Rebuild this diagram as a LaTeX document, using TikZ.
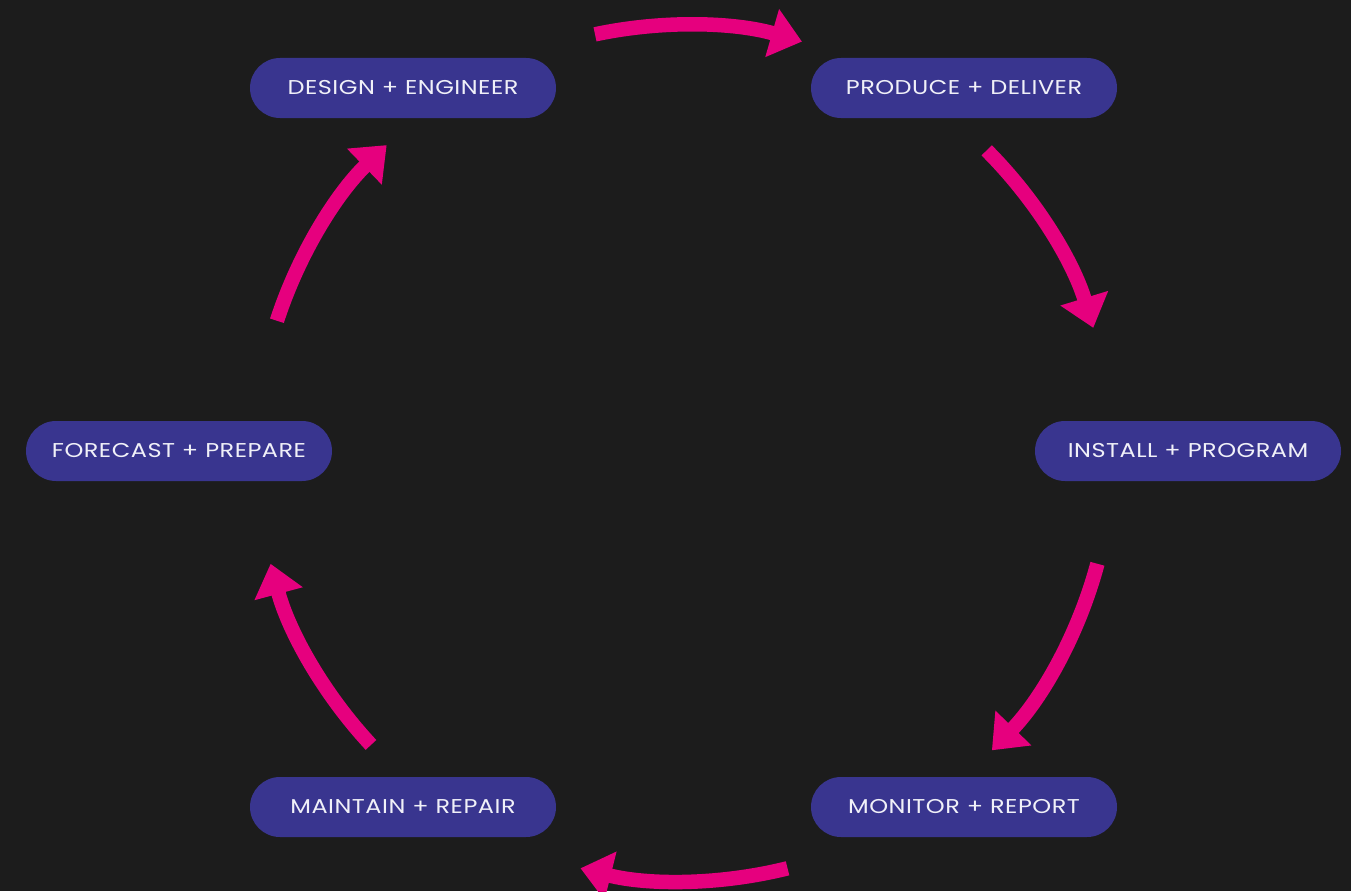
\documentclass[tikz,border=0pt]{standalone}
\usepackage{fontspec}
\setmainfont{Poppins}[FakeStretch=1.2, LetterSpace=2.5]
\usetikzlibrary{arrows.meta}
\definecolor{bg}{HTML}{1C1C1C}
\definecolor{pill}{HTML}{39358F}
\definecolor{mag}{HTML}{E6007E}
\definecolor{txt}{HTML}{F0F0F8}
\tikzset{
  stage/.style={draw=none, fill=pill, rounded corners=30pt, minimum width=306pt, minimum height=60pt,
    text=txt, font=\fontsize{20}{23}\selectfont, inner sep=0pt},
  cyc/.style={draw=mag, line width=14.5pt, -{Triangle[length=31pt,width=48pt]}}
}
\begin{document}
\begin{tikzpicture}[x=1pt,y=1pt]
\fill[bg] (0,0) rectangle (1351,-891);
\useasboundingbox (0,0) rectangle (1351,-891);
\node[stage] (design) at (403,-88) {DESIGN + ENGINEER};
\node[stage] (produce) at (964,-88) {PRODUCE + DELIVER};
\node[stage] (forecast) at (179,-451) {FORECAST + PREPARE};
\node[stage] (install) at (1188,-451) {INSTALL + PROGRAM};
\node[stage] (maintain) at (403,-807) {MAINTAIN + REPAIR};
\node[stage] (monitor) at (964,-807) {MONITOR + REPORT};
\coordinate (c) at (684,-453);
\draw[cyc] ([shift={(102:428)}]c) arc[start angle=102, end angle=74, radius=428];
\draw[cyc] ([shift={(45:428)}]c) arc[start angle=45, end angle=17, radius=428];
\draw[cyc] ([shift={(-15:428)}]c) arc[start angle=-15, end angle=-44, radius=428];
\draw[cyc] ([shift={(-76:428)}]c) arc[start angle=-76, end angle=-104, radius=428];
\draw[cyc] ([shift={(-137:428)}]c) arc[start angle=-137, end angle=-165, radius=428];
\draw[cyc] ([shift={(162:428)}]c) arc[start angle=162, end angle=134, radius=428];
\end{tikzpicture}
\end{document}
